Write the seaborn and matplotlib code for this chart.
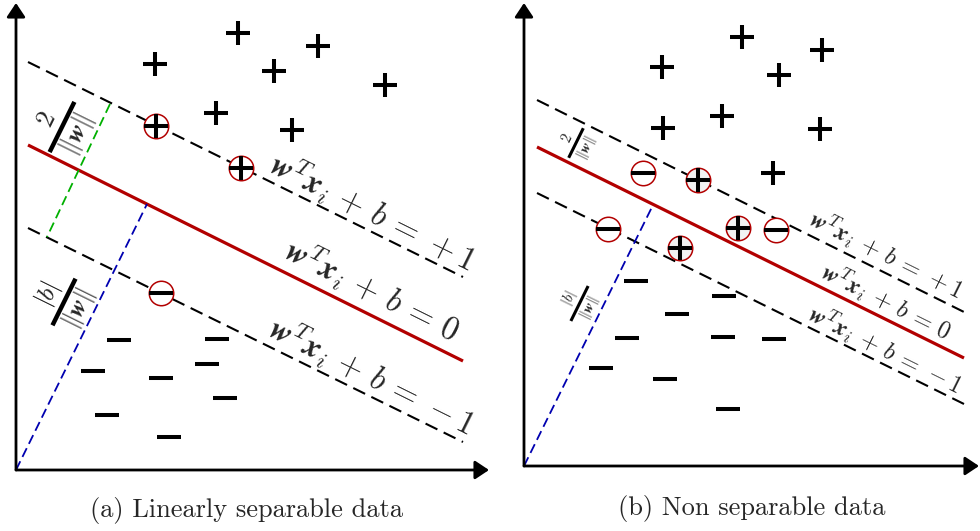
import numpy as np
import pandas as pd
import matplotlib
matplotlib.use("Agg")
import matplotlib.pyplot as plt
import seaborn as sns
from matplotlib.patches import FancyArrowPatch
from matplotlib.mathtext import MathTextParser

# ---------------- data (pixel-space positions) -------------
# panel (a): linearly separable
a_plus_x = [238, 155, 216, 318, 274, 385, 292]
a_plus_y = [33, 64, 113, 46, 71, 85, 130]
a_svplus_x = [156, 241]
a_svplus_y = [126, 168]
a_svminus_x = [161]
a_svminus_y = [293]
a_minus_x = [119, 217, 93, 161, 207, 225, 107, 169]
a_minus_y = [340, 339, 371, 378, 364, 398, 415, 437]
a_hyper_x = [28, 463]
a_plus1_y = [62, 277]
a_zero_y = [145, 361]
a_minus1_y = [228, 442]
a_margin_x = [110, 47]
a_margin_y = [104, 237]
a_offset_x = [16, 147]
a_offset_y = [470, 204]

# panel (b): non separable
b_plus_x = [662, 742, 822, 779, 722, 663, 820, 773]
b_plus_y = [67, 37, 50, 75, 116, 128, 129, 173]
b_svplus_x = [698, 738, 680]
b_svplus_y = [180, 228, 248]
b_svminus_x = [643, 608, 776]
b_svminus_y = [173, 229, 230]
b_minus_x = [636, 724, 677, 723, 627, 601, 665, 728, 774]
b_minus_y = [281, 296, 314, 337, 338, 368, 379, 409, 339]
b_hyper_x = [537, 964]
b_plus1_y = [100, 312]
b_zero_y = [147, 358]
b_minus1_y = [193, 404]
b_offset_x = [524, 653]
b_offset_y = [466, 205]

captions = ["(a) Linearly separable data", "(b) Non separable data"]

# ---------------- style --------------------------------------------------------------
sns.set_style("white")
plt.rcParams["mathtext.fontset"] = "cm"
plt.rcParams["font.family"] = ["cmr10", "DejaVu Serif"]
plt.rcParams["axes.unicode_minus"] = False
plt.rcParams["lines.scale_dashes"] = False

def bsym(c):
    try:
        MathTextParser("path").parse(r"$\boldsymbol{w}$")
        return r"\boldsymbol{%s}" % c
    except Exception:
        return r"\mathbf{%s}" % c

W = bsym("w")
X = bsym("x")
def eq(rhs):
    return r"$%s^T%s_i \,+\, b \,=\, %s$" % (W, X, rhs)

RED = "#b20000"
GREEN = "#00b000"
BLUE = "#0000b0"

fig = plt.figure(figsize=(9.8, 5.31), dpi=100)
ax = fig.add_axes([0, 0, 1, 1])
ax.set_xlim(0, 980)
ax.set_ylim(531, 0)
ax.axis("off")

def arrow(p0, p1):
    ax.add_patch(FancyArrowPatch(posA=p0, posB=p1,
                                 arrowstyle="-|>,head_length=0.42,head_width=0.28",
                                 mutation_scale=20, lw=2.0, color="black",
                                 shrinkA=0, shrinkB=0, zorder=2))

def line(xs, ys, color, lw, dashes=None):
    sns.lineplot(x=xs, y=ys, color=color, lw=lw, sort=False, estimator=None,
                 ax=ax, legend=False, zorder=1)
    ln = ax.lines[-1]
    if dashes is not None:
        ln.set_dashes(dashes)
    ln.set_solid_capstyle("butt")

def markers(xs, ys, m, circled=False, face="white"):
    if circled:
        ax.scatter(xs, ys, s=310, marker="o", facecolor=face, edgecolor=RED,
                   linewidth=1.1, zorder=3)
    df = pd.DataFrame({"x": xs, "y": ys})
    sns.scatterplot(data=df, x="x", y="y", marker=m, s=275, color="black",
                    linewidth=2.9, ax=ax, legend=False, zorder=4)

def frac(cx, cy, length, num, den, dn, dd, fs, bar_lw, ang=63.7):
    t = np.deg2rad(ang)
    bx, by = np.cos(t), -np.sin(t)          # along bar (pixel coords, y down)
    ux, uy = -np.sin(t), -np.cos(t)         # "up" of the rotated text
    ax.plot([cx - bx * length / 2, cx + bx * length / 2],
            [cy - by * length / 2, cy + by * length / 2],
            color="black", lw=bar_lw, solid_capstyle="butt", zorder=5)
    ax.text(cx + ux * dn, cy + uy * dn, num, fontsize=fs, rotation=ang,
            rotation_mode="anchor", ha="center", va="center", zorder=5)
    ax.text(cx - ux * dd, cy - uy * dd, den, fontsize=fs, rotation=ang,
            rotation_mode="anchor", ha="center", va="center", zorder=5)

NORM = r"$\Vert %s\Vert$" % W

# ---------------- panel (a) ----------------------------------------------------------
arrow((16, 470), (16, 3))
arrow((16, 470), (489, 470))
line(a_hyper_x, a_plus1_y, "black", 1.5, (9.5, 5))
line(a_hyper_x, a_minus1_y, "black", 1.5, (9.5, 5))
line(a_hyper_x, a_zero_y, RED, 2.3)
line(a_margin_x, a_margin_y, GREEN, 1.3, (7, 3.5))
line(a_offset_x, a_offset_y, BLUE, 1.3, (7, 3.5))
markers(a_plus_x, a_plus_y, "+")
markers(a_svplus_x, a_svplus_y, "+", circled=True)
markers(a_minus_x, a_minus_y, "_")
markers(a_svminus_x, a_svminus_y, "_", circled=True)
rot = -26.4
FA = 23.5
ax.text(373, 212, eq("+1"), fontsize=FA, rotation=rot, rotation_mode="anchor",
        ha="center", va="center")
ax.text(372, 290, eq("0"), fontsize=FA, rotation=rot, rotation_mode="anchor",
        ha="center", va="center")
ax.text(372, 376, eq("-1"), fontsize=FA, rotation=rot, rotation_mode="anchor",
        ha="center", va="center")
frac(62, 127, 56, "$2$", NORM, 17, 17, 19, 3.2)
frac(64, 302, 52, "$|b|$", NORM, 18, 16, 18, 3.2)
ax.text(246, 511, captions[0], fontsize=19, ha="center", va="center")

# ---------------- panel (b) ----------------------------------------------------------
arrow((524, 466), (524, 3))
arrow((524, 466), (979, 466))
line(b_hyper_x, b_plus1_y, "black", 1.5, (9.5, 5))
line(b_hyper_x, b_minus1_y, "black", 1.5, (9.5, 5))
line(b_hyper_x, b_zero_y, RED, 2.3)
line(b_offset_x, b_offset_y, BLUE, 1.3, (7, 3.5))
markers(b_plus_x, b_plus_y, "+")
markers(b_svplus_x, b_svplus_y, "+", circled=True, face="#f2f2f2")
markers(b_minus_x, b_minus_y, "_")
markers(b_svminus_x, b_svminus_y, "_", circled=True)
FB = 17.5
ax.text(886, 254, eq("+1"), fontsize=FB, rotation=rot, rotation_mode="anchor",
        ha="center", va="center")
ax.text(886, 301, eq("0"), fontsize=FB, rotation=rot, rotation_mode="anchor",
        ha="center", va="center")
ax.text(885, 349, eq("-1"), fontsize=FB, rotation=rot, rotation_mode="anchor",
        ha="center", va="center")
frac(576, 143, 33, "$2$", NORM, 10, 11, 10.5, 2.2)
frac(579.5, 303.5, 39, "$|b|$", NORM, 11, 11, 10.5, 2.2)
ax.text(752, 508, captions[1], fontsize=19, ha="center", va="center")

fig.savefig("out.png", dpi=100)
